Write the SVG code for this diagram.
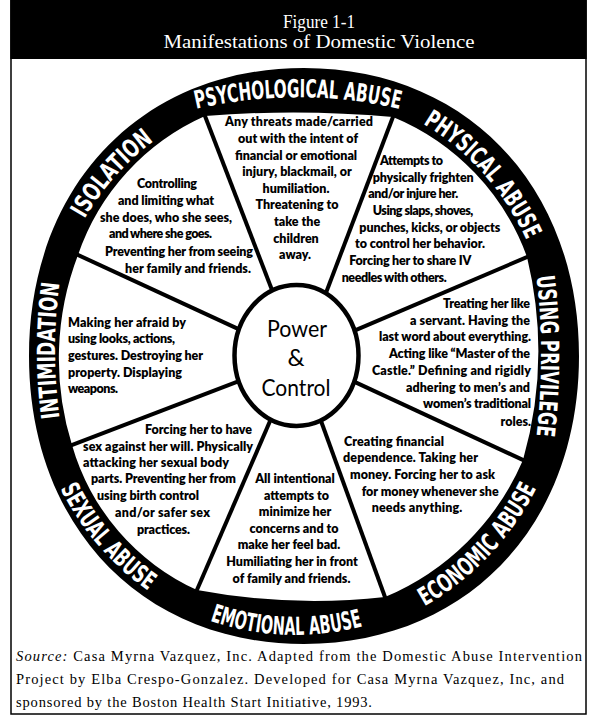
<svg xmlns="http://www.w3.org/2000/svg" width="600" height="717" viewBox="0 0 600 717">
<defs>
<style>
.seg{font-family:Lato,"DejaVu Sans",sans-serif;font-weight:800;font-size:12.5px;fill:#000}
.mid{text-anchor:middle}
.ring{font-family:"DejaVu Sans Condensed","DejaVu Sans",sans-serif;font-weight:bold;font-size:25px;fill:#fff}
.title{font-family:"Liberation Serif",serif;font-size:19px;fill:#fff;text-anchor:middle}
.cap{font-family:"Liberation Serif",serif;font-size:14.5px;fill:#000}
.spoke{stroke:#000;stroke-width:4;fill:none}
.hubt{font-family:Lato,"DejaVu Sans",sans-serif;font-size:24px;fill:#000;text-anchor:middle}
</style>
<path id="pPsych" d="M180,113 A451,451 0 0 1 416,113"/>
<path id="pPhys" d="M303.5,89.1 A254,267.5 0 0 1 551.9,362.3"/>
<path id="pPriv" d="M533,250 A700,700 0 0 1 533,462"/>
<path id="pIntim" d="M66.4,456.5 A500,500 0 0 1 66.4,244.5"/>
<path id="pIsol" d="M47.7,362 A250.4,263.7 0 0 1 292.8,92.9"/>
<path id="pSex" d="M29.4,344.7 A268.8,282.1 0 0 0 286.7,638.4"/>
<path id="pEmo" d="M95,541.1 A260,260 0 0 0 495,541.1"/>
<path id="pEcon" d="M295.9,639.2 A269.3,282.7 0 0 0 567.3,358.7"/>
</defs>
<rect x="0" y="0" width="600" height="717" fill="#fff"/>
<g id="frame">
<rect x="11" y="0" width="575" height="714" fill="none" stroke="#000" stroke-width="1.5"/>
<rect x="10.3" y="0" width="576.4" height="59" fill="#000"/>
</g>
<g id="title">
<text class="title" x="319" y="27.5" textLength="72" lengthAdjust="spacingAndGlyphs">Figure 1-1</text>
<text class="title" x="319" y="48" textLength="311" lengthAdjust="spacingAndGlyphs">Manifestations of Domestic Violence</text>
</g>
<g id="seg-isolation" class="seg">
<text x="137" y="188" textLength="60" lengthAdjust="spacing">Controlling</text>
<text x="118" y="205" textLength="96" lengthAdjust="spacing">and limiting what</text>
<text x="100" y="221.5" textLength="132" lengthAdjust="spacing">she does, who she sees,</text>
<text x="109" y="238" textLength="103" lengthAdjust="spacing">and where she goes.</text>
<text x="105" y="255.5" textLength="148" lengthAdjust="spacing">Preventing her from seeing</text>
<text x="125" y="272.5" textLength="126" lengthAdjust="spacing">her family and friends.</text>
</g>
<g id="seg-psychological" class="seg">
<text x="225" y="126" textLength="148" lengthAdjust="spacing">Any threats made/carried</text>
<text class="mid" x="298" y="142.5">out with the intent of</text>
<text class="mid" x="296" y="159.5">financial or emotional</text>
<text class="mid" x="297" y="176">injury, blackmail, or</text>
<text class="mid" x="296" y="193">humiliation.</text>
<text class="mid" x="297" y="209">Threatening to</text>
<text class="mid" x="297" y="226">take the</text>
<text class="mid" x="296" y="242.5">children</text>
<text class="mid" x="295" y="259">away.</text>
</g>
<g id="seg-physical" class="seg">
<text x="380" y="165" textLength="63" lengthAdjust="spacing">Attempts to</text>
<text x="372.7" y="181.7" textLength="101" lengthAdjust="spacing">physically frighten</text>
<text x="368.3" y="198.3" textLength="90" lengthAdjust="spacing">and/or injure her.</text>
<text x="372.7" y="215" textLength="100.6" lengthAdjust="spacing">Using slaps, shoves,</text>
<text x="359.3" y="231.7" textLength="141" lengthAdjust="spacing">punches, kicks, or objects</text>
<text x="355" y="248.3" textLength="130" lengthAdjust="spacing">to control her behavior.</text>
<text x="349.3" y="265" textLength="122" lengthAdjust="spacing">Forcing her to share IV</text>
<text x="341.7" y="281.7" textLength="105" lengthAdjust="spacing">needles with others.</text>
</g>
<g id="seg-privilege" class="seg">
<text x="443" y="308" textLength="87" lengthAdjust="spacing">Treating her like</text>
<text x="410" y="325" textLength="120" lengthAdjust="spacing">a servant. Having the</text>
<text x="379" y="341" textLength="152" lengthAdjust="spacing">last word about everything.</text>
<text x="389" y="358" textLength="141" lengthAdjust="spacing">Acting like “Master of the</text>
<text x="372" y="375" textLength="159" lengthAdjust="spacing">Castle.” Defining and rigidly</text>
<text x="406" y="391.7" textLength="124" lengthAdjust="spacing">adhering to men’s and</text>
<text x="423" y="408" textLength="108" lengthAdjust="spacing">women’s traditional</text>
<text x="531" y="425.5" text-anchor="end">roles.</text>
</g>
<g id="seg-economic" class="seg">
<text x="344" y="445.7" textLength="100" lengthAdjust="spacing">Creating financial</text>
<text x="343" y="462.3" textLength="135" lengthAdjust="spacing">dependence. Taking her</text>
<text x="350" y="479" textLength="145" lengthAdjust="spacing">money. Forcing her to ask</text>
<text x="361.7" y="495.7" textLength="137" lengthAdjust="spacing">for money whenever she</text>
<text x="371.7" y="511.7" textLength="90.6" lengthAdjust="spacing">needs anything.</text>
</g>
<g id="seg-emotional" class="seg mid">
<text x="295" y="483.3">All intentional</text>
<text x="296.5" y="500">attempts to</text>
<text x="295" y="516">minimize her</text>
<text x="294" y="532.7">concerns and to</text>
<text x="289" y="549">make her feel bad.</text>
<text x="292" y="566">Humiliating her in front</text>
<text x="291.5" y="582.7">of family and friends.</text>
</g>
<g id="seg-sexual" class="seg">
<text x="145" y="434" textLength="107" lengthAdjust="spacing">Forcing her to have</text>
<text x="83" y="450.7" textLength="170" lengthAdjust="spacing">sex against her will. Physically</text>
<text x="83" y="467.3" textLength="146" lengthAdjust="spacing">attacking her sexual body</text>
<text x="91" y="483.3" textLength="145" lengthAdjust="spacing">parts. Preventing her from</text>
<text x="97" y="500" textLength="102" lengthAdjust="spacing">using birth control</text>
<text x="115" y="516.7" textLength="95" lengthAdjust="spacing">and/or safer sex</text>
<text x="137" y="534" textLength="53" lengthAdjust="spacing">practices.</text>
</g>
<g id="seg-intimidation" class="seg">
<text x="68" y="326.7" textLength="118" lengthAdjust="spacing">Making her afraid by</text>
<text x="68" y="343" textLength="107" lengthAdjust="spacing">using looks, actions,</text>
<text x="68" y="360" textLength="135" lengthAdjust="spacing">gestures. Destroying her</text>
<text x="68" y="376.7" textLength="114" lengthAdjust="spacing">property. Displaying</text>
<text x="68" y="392.7" textLength="50" lengthAdjust="spacing">weapons.</text>
</g>
<g id="connectors">
<line class="spoke" x1="202.1" y1="108.5" x2="274.9" y2="297.5"/>
<line class="spoke" x1="395.8" y1="109.5" x2="324.2" y2="297.5"/>
<line class="spoke" x1="534.4" y1="253.9" x2="348.6" y2="333.1"/>
<line class="spoke" x1="530.3" y1="463.4" x2="349.7" y2="379.6"/>
<line class="spoke" x1="387.7" y1="604.5" x2="318.3" y2="413.5"/>
<line class="spoke" x1="193.8" y1="597.3" x2="273.2" y2="413.7"/>
<line class="spoke" x1="64.5" y1="447.9" x2="241.5" y2="380.1"/>
<line class="spoke" x1="70.7" y1="251.6" x2="241.3" y2="330.4"/>
</g>
<g id="ring">
<path fill="#000" fill-rule="evenodd" d="M579,356 C579,525.9 466.25,644 304,644 C141.75,644 29,525.9 29,356 C29,186.1 141.75,68 304,68 C466.25,68 579,186.1 579,356 Z M205,116 A1100,1100 0 0 1 393,117 A240,240 0 0 1 527,257 A400,400 0 0 1 523,460 A260,260 0 0 1 385,597 A635,635 0 0 1 197,590 A228,228 0 0 1 72,445 A290,290 0 0 1 78,255 A235,235 0 0 1 205,116 Z"/>
</g>
<g id="ring-labels" class="ring">
<text><textPath href="#pPsych" startOffset="50%" text-anchor="middle" textLength="205" lengthAdjust="spacingAndGlyphs">PSYCHOLOGICAL ABUSE</textPath></text>
<text><textPath href="#pPhys" startOffset="50%" text-anchor="middle" textLength="158" lengthAdjust="spacingAndGlyphs">PHYSICAL ABUSE</textPath></text>
<text><textPath href="#pPriv" startOffset="50%" text-anchor="middle" textLength="160" lengthAdjust="spacingAndGlyphs">USING PRIVILEGE</textPath></text>
<text><textPath href="#pIntim" startOffset="50%" text-anchor="middle" textLength="135" lengthAdjust="spacingAndGlyphs">INTIMIDATION</textPath></text>
<text><textPath href="#pIsol" startOffset="50%" text-anchor="middle" textLength="105" lengthAdjust="spacingAndGlyphs">ISOLATION</textPath></text>
<text><textPath href="#pSex" startOffset="50%" text-anchor="middle" textLength="136" lengthAdjust="spacingAndGlyphs">SEXUAL ABUSE</textPath></text>
<text><textPath href="#pEmo" startOffset="219" text-anchor="middle" textLength="155" lengthAdjust="spacingAndGlyphs">EMOTIONAL ABUSE</textPath></text>
<text><textPath href="#pEcon" startOffset="50%" text-anchor="middle" textLength="165" lengthAdjust="spacingAndGlyphs">ECONOMIC ABUSE</textPath></text>
</g>
<g id="hub">
<ellipse cx="296.5" cy="355.5" rx="62" ry="70.5" fill="#fff" stroke="#000" stroke-width="4.5"/>
<text class="hubt" x="297" y="337" textLength="60" lengthAdjust="spacingAndGlyphs">Power</text>
<text class="hubt" x="296" y="366">&amp;</text>
<text class="hubt" x="296" y="395.5" textLength="69" lengthAdjust="spacingAndGlyphs">Control</text>
</g>
<g id="caption" class="cap">
<text x="16" y="661" textLength="566" lengthAdjust="spacing"><tspan font-style="italic">Source:</tspan> Casa Myrna Vazquez, Inc. Adapted from the Domestic Abuse Intervention</text>
<text x="16" y="684" textLength="548" lengthAdjust="spacing">Project by Elba Crespo-Gonzalez.  Developed for Casa Myrna Vazquez, Inc, and</text>
<text x="16" y="706.5" textLength="356" lengthAdjust="spacing">sponsored by the Boston Health Start Initiative, 1993.</text>
</g>
</svg>
